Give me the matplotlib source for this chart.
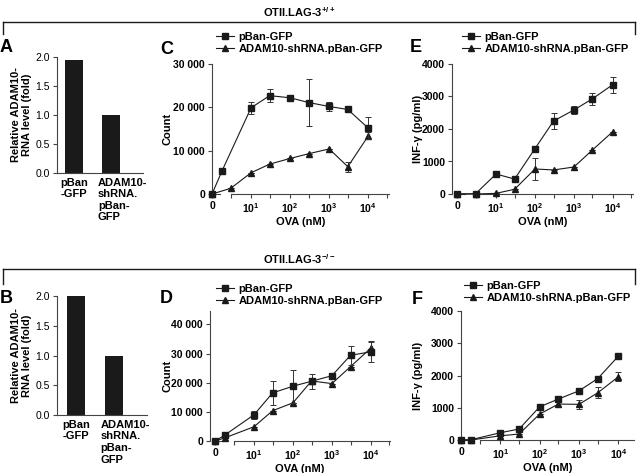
import matplotlib
matplotlib.use('Agg')
import matplotlib.pyplot as plt
import numpy as np
from matplotlib.lines import Line2D
from matplotlib.ticker import NullFormatter, FixedLocator
import matplotlib.transforms as mtransforms

plt.rcParams['font.family'] = ['Liberation Sans', 'DejaVu Sans']
plt.rcParams['mathtext.fontset'] = 'custom'
plt.rcParams['mathtext.rm'] = 'Liberation Sans'
plt.rcParams['mathtext.bf'] = 'Liberation Sans:bold'
plt.rcParams['axes.linewidth'] = 0.8

W, H = 638, 473
INK = '#1a1a1a'
AXC = '#444444'

# --- data -------------------------------------------------------------
bar_labels = ['pBan\n-GFP', 'ADAM10-\nshRNA.\npBan-\nGFP']
a_vals = [1.95, 1.0]
b_vals = [2.0, 1.0]

dose_lo = [0, 1.8, 10, 30, 100, 300, 1000, 3000, 10000]
dose_hi = [0, 3, 10, 30, 100, 300, 1000, 3000, 10000]

c_ctrl = [0, 5300, 19900, 22700, 22200, 21100, 20200, 19500, 15200]
c_ctrl_err = [0, 0, 1400, 1500, 400, 5400, 1000, 400, 2500]
c_kd = [0, 1300, 4900, 6900, 8200, 9300, 10400, 6300, 13400]
c_kd_err = [0, 0, 0, 0, 0, 0, 0, 1150, 800]

d_ctrl = [0, 2100, 9000, 16500, 18800, 20500, 22400, 29400, 30600]
d_ctrl_err = [0, 0, 1300, 4100, 5600, 2600, 500, 3300, 3500]
d_kd = [0, 1100, 4900, 10400, 13100, 20600, 19700, 25500, 31900]
d_kd_err = [0, 0, 0, 0, 0, 0, 0, 0, 2500]

e_ctrl = [0, 10, 615, 460, 1395, 2245, 2585, 2930, 3365]
e_ctrl_err = [0, 0, 70, 40, 80, 240, 130, 190, 250]
e_kd = [0, 0, 20, 145, 770, 740, 830, 1355, 1920]
e_kd_err = [0, 0, 0, 0, 330, 0, 0, 0, 0]

f_ctrl = [0, 10, 225, 340, 1030, 1270, 1525, 1905, 2600]
f_ctrl_err = [0, 0, 30, 40, 40, 30, 30, 30, 30]
f_kd = [0, 0, 130, 185, 805, 1115, 1105, 1465, 1960]
f_kd_err = [0, 0, 0, 0, 0, 60, 150, 170, 140]

series_names = ['pBan-GFP', 'ADAM10-shRNA.pBan-GFP']
dose_ticks = [1, 10, 100, 1000, 10000]
dose_ticklabels = ['0', r'$\mathbf{10^1}$', r'$\mathbf{10^2}$', r'$\mathbf{10^3}$', r'$\mathbf{10^4}$']


def box(left, top, right, bottom):
    return [left / W, 1 - bottom / H, (right - left) / W, (bottom - top) / H]


fig = plt.figure(figsize=(W / 100, H / 100), dpi=100)


def style_axes(ax):
    for s in ['top', 'right']:
        ax.spines[s].set_visible(False)
    for s in ['left', 'bottom']:
        ax.spines[s].set_color(AXC)
    ax.tick_params(which='both', direction='out', length=3, width=0.8, color=AXC,
                   labelsize=7.5, pad=2)


def bar_panel(ax, vals, xlim, ylab_x):
    style_axes(ax)
    x = np.arange(len(vals))
    ax.bar(x, vals, width=0.48, color=INK)
    ax.set_xlim(*xlim)
    ax.set_ylim(0, 2.0)
    ax.set_yticks([0, 0.5, 1.0, 1.5, 2.0])
    ax.set_yticklabels(['0.0', '0.5', '1.0', '1.5', '2.0'])
    ax.set_xticks([])
    ax.spines['left'].set_bounds(0, 2.0)
    tr = mtransforms.blended_transform_factory(ax.transData, ax.transAxes)
    for xi, lab in zip(x, bar_labels):
        ax.text(xi - 0.36, -0.04, lab, transform=tr, ha='left', va='top',
                fontsize=8, fontweight='bold', linespacing=1.2)
    ax.set_ylabel('Relative ADAM10-\nRNA level (fold)', fontsize=8, fontweight='bold',
                  linespacing=1.1)
    ax.yaxis.set_label_coords(ylab_x, 0.5)


def dose_panel(ax, x_ctrl, y_ctrl, e_ctrl, x_kd, y_kd, e_kd, xlim, ylim, yticks,
               yticklabels, ylabel, ylab_x, xlab_y):
    style_axes(ax)
    ax.set_xscale('log')
    kw = dict(color=INK, lw=0.8, ecolor='#333333', elinewidth=0.7, capsize=2.5,
              capthick=0.7, clip_on=False)
    xc = np.where(np.array(x_ctrl) == 0, 1.0, x_ctrl)
    xk = np.where(np.array(x_kd) == 0, 1.0, x_kd)
    ax.errorbar(xk, y_kd, yerr=e_kd, marker='^', ms=5, zorder=3, **kw)
    ax.errorbar(xc, y_ctrl, yerr=e_ctrl, marker='s', ms=5, zorder=4, **kw)
    ax.set_xlim(*xlim)
    ax.set_ylim(*ylim)
    ax.xaxis.set_major_locator(FixedLocator(dose_ticks))
    ax.set_xticklabels(dose_ticklabels)
    ax.xaxis.set_minor_locator(FixedLocator([3, 30, 300, 3000, 30000]))
    ax.xaxis.set_minor_formatter(NullFormatter())
    ax.set_yticks(yticks)
    ax.set_yticklabels(yticklabels)
    for lab in ax.get_xticklabels() + ax.get_yticklabels():
        lab.set_fontweight('bold')
    # broken x axis: short piece at zero, main piece from the first dose
    ax.spines['bottom'].set_bounds(3, xlim[1])
    tr = mtransforms.blended_transform_factory(ax.transData, ax.transAxes)
    ax.add_line(Line2D([1.0, 1.6], [0, 0], transform=tr, color=AXC, lw=0.8,
                       clip_on=False))
    ax.set_ylabel(ylabel, fontsize=8, fontweight='bold')
    ax.yaxis.set_label_coords(ylab_x, 0.5)
    ax.set_xlabel('OVA (nM)', fontsize=8, fontweight='bold')
    ax.xaxis.set_label_coords(0.5, xlab_y)


def legend_at(ax, x_px, y_px):
    handles = [Line2D([], [], color=INK, lw=0.8, marker='s', ms=5),
               Line2D([], [], color=INK, lw=0.8, marker='^', ms=5)]
    fig.legend(handles, series_names, loc='upper left',
               bbox_to_anchor=(x_px / W, 1 - y_px / H), frameon=False,
               borderpad=0, borderaxespad=0, handlelength=1.6, handletextpad=0.4,
               labelspacing=0.15, prop={'size': 8, 'weight': 'bold'})


def panel_letter(x_px, y_px, s):
    fig.text(x_px / W, 1 - y_px / H, s, fontsize=13, fontweight='bold',
             ha='left', va='center')


# panel A / B
axA = fig.add_axes(box(57, 57, 143, 173))
bar_panel(axA, a_vals, (-0.45, 1.84), -0.29)
axB = fig.add_axes(box(57, 296, 147, 415))
bar_panel(axB, b_vals, (-0.5, 1.87), -0.28)

# panel C
axC = fig.add_axes(box(212, 64, 389, 194))
dose_panel(axC, dose_lo, c_ctrl, c_ctrl_err, dose_hi, c_kd, c_kd_err,
           (1.0, 34000), (0, 30000), [0, 10000, 20000, 30000],
           ['0', '10 000', '20 000', '30 000'], 'Count', -0.225, -0.175)

# panel D
axD = fig.add_axes(box(210, 311, 390, 441))
dose_panel(axD, dose_lo, d_ctrl, d_ctrl_err, dose_lo, d_kd, d_kd_err,
           (0.74, 31000), (0, 44600), [0, 10000, 20000, 30000, 40000],
           ['0', '10 000', '20 000', '30 000', '40 000'], 'Count', -0.21, -0.175)

# panel E
axE = fig.add_axes(box(452, 64, 633, 194))
dose_panel(axE, dose_hi, e_ctrl, e_ctrl_err, dose_hi, e_kd, e_kd_err,
           (0.74, 33000), (0, 4000), [0, 1000, 2000, 3000, 4000],
           ['0', '1000', '2000', '3000', '4000'], 'INF-γ (pg/ml)', -0.16, -0.18)

# panel F
axF = fig.add_axes(box(461, 311, 634, 440))
dose_panel(axF, dose_lo, f_ctrl, f_ctrl_err, dose_lo, f_kd, f_kd_err,
           (1.0, 25000), (0, 4000), [0, 1000, 2000, 3000, 4000],
           ['0', '1000', '2000', '3000', '4000'], 'INF-γ (pg/ml)', -0.22, -0.18)

legend_at(axC, 216, 32)
legend_at(axD, 216, 284)
legend_at(axE, 462, 32)
legend_at(axF, 464, 281)

for s, x, y in [('A', 0, 48), ('B', 0, 298), ('C', 160, 49), ('D', 160, 298),
                ('E', 410, 48), ('F', 412, 299)]:
    panel_letter(x, y, s)

# group brackets
for y_line, y_end, title in [(22, 34, r'OTII.LAG-3$^{\mathbf{+/+}}$'),
                             (269, 284, r'OTII.LAG-3$^{\mathbf{-/-}}$')]:
    yl = 1 - y_line / H
    ye = 1 - y_end / H
    fig.add_artist(Line2D([3 / W, 635 / W], [yl, yl], color=INK, lw=1.0))
    fig.add_artist(Line2D([3 / W, 3 / W], [yl, ye], color=INK, lw=1.0))
    fig.add_artist(Line2D([635 / W, 635 / W], [yl, ye], color=INK, lw=1.0))
    fig.text(263 / W, 1 - (y_line - 10) / H, title, fontsize=8, fontweight='bold',
             ha='left', va='center')

fig.savefig('out.png', dpi=100)
